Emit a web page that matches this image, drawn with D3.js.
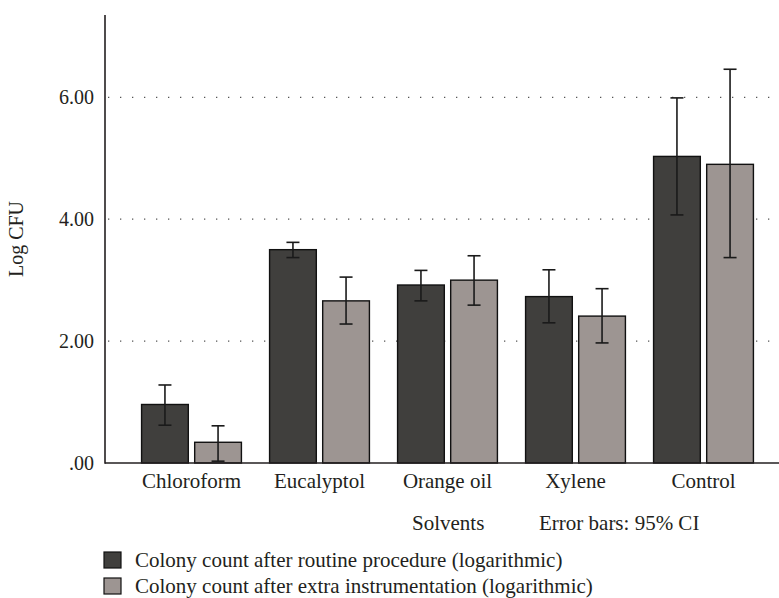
<!DOCTYPE html>
<html>
<head>
<meta charset="utf-8">
<script src="https://cdn.jsdelivr.net/npm/d3@7"></script>
<style>
  html, body { margin: 0; padding: 0; background: #fff; }
  svg { display: block; }
  text { font-family: "Liberation Serif", "DejaVu Serif", serif; fill: #231f20; }
</style>
</head>
<body>
<svg id="chart" width="779" height="598"></svg>
<script>
// ---- data ----
const categories = ["Chloroform", "Eucalyptol", "Orange oil", "Xylene", "Control"];
const seriesNames = [
  "Colony count after routine procedure (logarithmic)",
  "Colony count after extra instrumentation (logarithmic)"
];
const routineMean = [0.96, 3.50, 2.92, 2.73, 5.03];
const routineLow  = [0.62, 3.37, 2.66, 2.30, 4.07];
const routineHigh = [1.28, 3.62, 3.16, 3.17, 5.99];
const extraMean = [0.34, 2.66, 3.00, 2.41, 4.90];
const extraLow  = [0.03, 2.28, 2.59, 1.97, 3.37];
const extraHigh = [0.61, 3.05, 3.40, 2.86, 6.46];
const yTicks = [0, 2, 4, 6];
const yTickLabels = [".00", "2.00", "4.00", "6.00"];
const colors = ["#403f3d", "#9d9592"];

const svg = d3.select("#chart");
const x0 = 105, x1 = 779, yTop = 15, yBase = 463;
const FONT = '"Liberation Serif", serif';

const y = d3.scaleLinear().domain([0, 7.35]).range([yBase, yTop]);
const x = d3.scaleBand().domain(categories).range([127.5, 767.5])
  .paddingInner(0.22).paddingOuter(0.11);
const xs = d3.scaleBand().domain([0, 1]).range([0, x.bandwidth()]).paddingInner(0.12);

// gridlines
svg.append("g").selectAll("line").data(yTicks.filter(d => d > 0)).join("line")
  .attr("x1", x0 + 3).attr("x2", x1)
  .attr("y1", d => y(d)).attr("y2", d => y(d))
  .attr("stroke", "#555").attr("stroke-width", 1.2)
  .attr("stroke-dasharray", "1.3 10.7");

// y tick labels
const yAxis = d3.axisLeft(y).tickValues(yTicks)
  .tickFormat((d, i) => yTickLabels[i]).tickSize(0).tickPadding(11);
const gy = svg.append("g").attr("transform", `translate(${x0},0)`).call(yAxis);
gy.select(".domain").remove();
gy.selectAll("text").style("font-family", FONT)
  .style("font-size", "20px").attr("fill", "#231f20");

// bars
const data = categories.map((c, i) => ({
  cat: c,
  vals: [
    { s: 0, m: routineMean[i], lo: routineLow[i], hi: routineHigh[i] },
    { s: 1, m: extraMean[i], lo: extraLow[i], hi: extraHigh[i] }
  ]
}));
const groups = svg.append("g").selectAll("g").data(data).join("g")
  .attr("transform", d => `translate(${x(d.cat)},0)`);
groups.selectAll("rect").data(d => d.vals).join("rect")
  .attr("x", d => xs(d.s)).attr("width", xs.bandwidth())
  .attr("y", d => y(d.m)).attr("height", d => y(0) - y(d.m))
  .attr("fill", d => colors[d.s]).attr("stroke", "#111").attr("stroke-width", 1.4);

// error bars
const capW = 13;
const eb = groups.selectAll("g.eb").data(d => d.vals).join("g").attr("class", "eb")
  .attr("stroke", "#1a1a1a").attr("stroke-width", 1.6);
const cx = d => xs(d.s) + xs.bandwidth() / 2;
eb.append("line")
  .attr("x1", cx).attr("x2", cx)
  .attr("y1", d => y(d.lo)).attr("y2", d => y(d.hi));
eb.append("line")
  .attr("x1", d => cx(d) - capW / 2).attr("x2", d => cx(d) + capW / 2)
  .attr("y1", d => y(d.hi)).attr("y2", d => y(d.hi));
eb.append("line")
  .attr("x1", d => cx(d) - capW / 2).attr("x2", d => cx(d) + capW / 2)
  .attr("y1", d => y(d.lo)).attr("y2", d => y(d.lo));

// axes lines
svg.append("line").attr("x1", x0).attr("x2", x0).attr("y1", yTop).attr("y2", yBase + 0.8)
  .attr("stroke", "#231f20").attr("stroke-width", 1.6);
svg.append("line").attr("x1", x0).attr("x2", x1).attr("y1", yBase).attr("y2", yBase)
  .attr("stroke", "#231f20").attr("stroke-width", 1.6);

// x labels
const xAxis = d3.axisBottom(x).tickSize(0).tickPadding(10);
const gx = svg.append("g").attr("transform", `translate(0,${yBase})`).call(xAxis);
gx.select(".domain").remove();
gx.selectAll("text").style("font-family", FONT)
  .style("font-size", "21px").attr("fill", "#231f20");

// axis titles
svg.append("text").attr("transform", `translate(23,${(yTop + yBase) / 2}) rotate(-90)`)
  .attr("text-anchor", "middle").style("font-size", "20px").text("Log CFU");
svg.append("text").attr("x", 412).attr("y", 530).style("font-size", "21px").text("Solvents");
svg.append("text").attr("x", 539).attr("y", 530).style("font-size", "21px").text("Error bars: 95% CI");

// legend
const lg = svg.append("g").selectAll("g").data(seriesNames).join("g")
  .attr("transform", (d, i) => `translate(104,${552 + i * 26})`);
lg.append("rect").attr("width", 17).attr("height", 16)
  .attr("fill", (d, i) => colors[i]).attr("stroke", "#111").attr("stroke-width", 1.2);
lg.append("text").attr("x", 31).attr("y", 14.5).style("font-size", "21px").text(d => d);
</script>
</body>
</html>
